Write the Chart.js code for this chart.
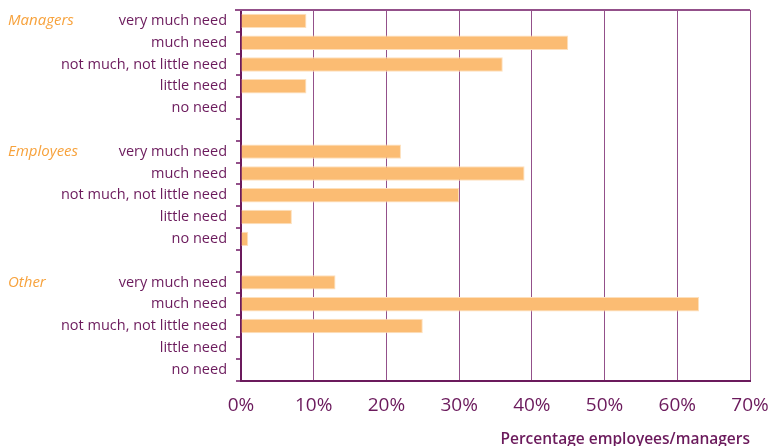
<!DOCTYPE html>
<html>
<head>
<meta charset="utf-8">
<script src="https://cdn.jsdelivr.net/npm/chart.js@4/dist/chart.umd.min.js"></script>
<style>
  html, body { margin: 0; padding: 0; background: #fff; }
  #wrap { width: 769px; height: 446px; }
</style>
</head>
<body>
<div id="wrap"><canvas id="chart"></canvas></div>
<script>
// ===== Data =====
const groups = ['Managers', 'Employees', 'Other'];
const levels = ['very much need', 'much need', 'not much, not little need', 'little need', 'no need'];
const managersValues = [9, 45, 36, 9, 0];
const employeesValues = [22, 39, 30, 7, 1];
const otherValues = [13, 63, 25, 0, 0];
const xTicks = [0, 10, 20, 30, 40, 50, 60, 70];
const xTitle = 'Percentage employees/managers';

const purple = '#6b1a5c';
const gridPurple = '#93508a';
const barColor = '#fbbc73';
const groupColor = '#f7a23c';

// build category rows with an empty row between groups
const groupValues = [managersValues, employeesValues, otherValues];
const labels = [];
const values = [];
const groupStart = [];
groupValues.forEach((vals, g) => {
    if (g > 0) { labels.push(''); values.push(null); }
    groupStart.push(labels.length);
    levels.forEach((lv, i) => { labels.push(lv); values.push(vals[i]); });
});

// group names and top border
const groupLabels = {
    id: 'groupLabels',
    afterDraw(chart) {
        const { ctx, chartArea, scales } = chart;
        ctx.save();
        ctx.strokeStyle = gridPurple;
        ctx.lineWidth = 2;
        ctx.beginPath();
        ctx.moveTo(chartArea.left - 6, chartArea.top);
        ctx.lineTo(chartArea.right, chartArea.top);
        ctx.stroke();
        ctx.font = 'italic 500 15px "Open Sans", sans-serif';
        ctx.fillStyle = groupColor;
        ctx.textBaseline = 'middle';
        ctx.textAlign = 'left';
        groups.forEach((name, g) => {
            ctx.fillText(name, 8, scales.y.getPixelForValue(groupStart[g]));
        });
        ctx.restore();
    }
};

new Chart(document.getElementById('chart'), {
    type: 'bar',
    data: {
        labels,
        datasets: [{
            data: values,
            backgroundColor: barColor,
            borderColor: '#fde0bd',
            borderWidth: 1,
            barPercentage: 0.66,
            categoryPercentage: 1
        }]
    },
    options: {
        indexAxis: 'y',
        responsive: true,
        maintainAspectRatio: false,
        animation: false,
        layout: { padding: { top: 10, left: 0, right: 0, bottom: -1 } },
        plugins: {
            legend: { display: false },
            tooltip: { enabled: false }
        },
        scales: {
            x: {
                min: 0,
                max: 70,
                afterBuildTicks(axis) {
                    axis.ticks = xTicks.map(v => ({ value: v }));
                },
                afterFit(axis) { axis.paddingRight = 19; },
                ticks: {
                    callback: v => v + '%',
                    color: purple,
                    padding: 16,
                    font: { family: '"Open Sans", sans-serif', size: 19, lineHeight: 1 }
                },
                grid: {
                    color: gridPurple,
                    lineWidth: 1,
                    drawTicks: false
                },
                border: { color: purple, width: 2 },
                title: {
                    display: true,
                    text: xTitle,
                    align: 'end',
                    color: purple,
                    padding: { top: 0, bottom: 0 },
                    font: { family: '"Open Sans", sans-serif', size: 15.5, weight: '600', lineHeight: 1 }
                }
            },
            y: {
                afterFit(axis) { axis.width = 241; axis.paddingTop = 0; axis.paddingBottom = 0; },
                ticks: {
                    color: purple,
                    padding: 9,
                    font: { family: '"Open Sans", sans-serif', size: 14.5, weight: '500' }
                },
                grid: {
                    offset: true,
                    drawOnChartArea: false,
                    drawTicks: true,
                    tickLength: 5,
                    color: gridPurple,
                    lineWidth: 2
                },
                border: { color: purple, width: 2 }
            }
        }
    },
    plugins: [groupLabels]
});
</script>
</body>
</html>
